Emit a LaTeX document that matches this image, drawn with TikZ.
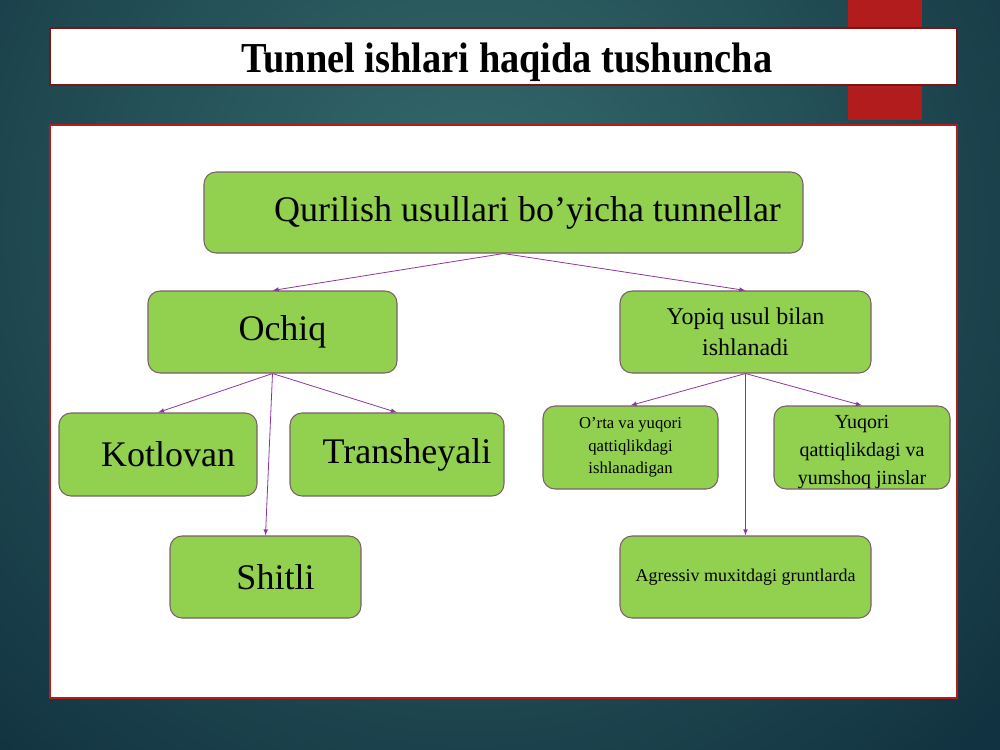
\documentclass[tikz,border=0pt]{standalone}
\usepackage{fontspec}
\setmainfont{Liberation Serif}
\usepackage{tikz}
\definecolor{bgmid}{RGB}{54,108,108}
\definecolor{bgedge}{RGB}{17,50,64}
\definecolor{barred}{RGB}{178,28,28}
\definecolor{boxgreen}{RGB}{146,208,80}
\definecolor{boxline}{RGB}{125,95,105}
\definecolor{arrowpurple}{RGB}{140,55,160}
\tikzset{
	gbox/.style={draw=boxline, line width=0.8pt, fill=boxgreen, rounded corners=9pt, align=center, inner sep=2pt},
	link/.style={draw=arrowpurple, line width=0.6pt, -latex}
}

\begin{document}
\begin{tikzpicture}[x=0.75pt, y=-0.75pt]
		%%%%% START %%%%%
		\useasboundingbox (0, 0) rectangle (1000, 750);
		
		\begin{scope}
			\clip (0, 0) rectangle (1000, 750);
			\fill[bgedge] (0, 0) rectangle (1000, 750);
			\shade[inner color=bgmid, outer color=bgedge] (470, 230) circle (720);
		\end{scope}
		
		\fill[barred] (848, 0) rectangle (922, 120);
		
		\draw[fill=white, draw=barred!70!black, line width=0.8pt] (50, 28) rectangle (957, 85);
		\node[font=\fontsize{32}{36}\selectfont\bfseries] (title) at (507, 62) {\scalebox{0.9}[1]{Tunnel ishlari haqida tushuncha}};
		
		\draw[fill=white, draw=barred, line width=1pt] (50, 125) rectangle (957, 698);
		
		% boxes
		\node[gbox, minimum width=449.25pt, minimum height=60.75pt, font=\fontsize{27}{32}\selectfont] (root) at (503.5, 212.5) {\hspace*{36pt}Qurilish usullari bo’yicha tunnellar};
		
		\node[gbox, minimum width=186.75pt, minimum height=61.5pt, font=\fontsize{27}{32}\selectfont] (ochiq) at (272.5, 332) {\hspace*{15pt}Ochiq};
		\node[gbox, minimum width=188.25pt, minimum height=61.5pt, font=\fontsize{18}{23}\selectfont] (yopiq) at (745.5, 332) {Yopiq usul bilan\\ishlanadi};
		
		\node[gbox, minimum width=148.5pt, minimum height=62.25pt, font=\fontsize{27}{32}\selectfont] (kotlovan) at (158, 454.5) {\hspace*{15pt}Kotlovan};
		\node[gbox, minimum width=160.5pt, minimum height=62.25pt, font=\fontsize{27}{32}\selectfont] (transheya) at (397, 454.5) {\hspace*{15pt}Transheyali};
		\node[gbox, minimum width=143.25pt, minimum height=61.5pt, font=\fontsize{27}{32}\selectfont] (shitli) at (265.5, 577) {\hspace*{15pt}Shitli};
		
		\node[gbox, minimum width=131.25pt, minimum height=62.25pt, font=\fontsize{12.5}{17}\selectfont] (orta) at (630.5, 447.5) {O’rta va yuqori\\qattiqlikdagi\\ishlanadigan};
		\node[gbox, inner ysep=0pt, minimum width=132pt, minimum height=62.25pt, font=\fontsize{15}{21}\selectfont] (yuqori) at (862, 447.5) {\rule{0pt}{16pt}Yuqori\\qattiqlikdagi va\\yumshoq jinslar};
		\node[gbox, minimum width=188.25pt, minimum height=61.5pt, font=\fontsize{13.5}{17}\selectfont] (agressiv) at (745.5, 577) {Agressiv muxitdagi gruntlarda};
		
		% arrows
		\draw[link] (root.south) -- (ochiq.north);
		\draw[link] (root.south) -- (yopiq.north);
		
		\draw[link] (ochiq.south) -- (kotlovan.north);
		\draw[link] (ochiq.south) -- (transheya.north);
		\draw[link] (ochiq.south) -- (shitli.north);
		
		\draw[link] (yopiq.south) -- (orta.north);
		\draw[link] (yopiq.south) -- (yuqori.north);
		\draw[link] (yopiq.south) -- (agressiv.north);
		
		%%%%% END %%%%%
	\end{tikzpicture}
\end{document}
